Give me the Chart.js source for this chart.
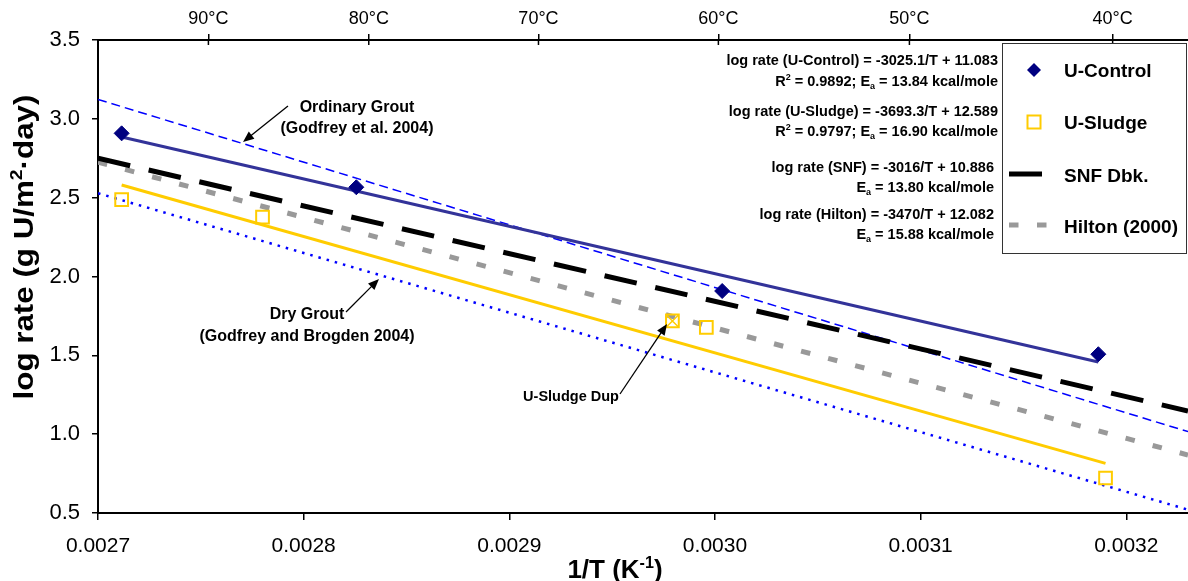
<!DOCTYPE html>
<html>
<head>
<meta charset="utf-8">
<script src="https://cdn.jsdelivr.net/npm/chart.js@4.4.1/dist/chart.umd.min.js"></script>
<style>
  html, body { margin: 0; padding: 0; background: #fff; }
  #wrap { width: 1188px; height: 581px; }
  canvas { display: block; }
</style>
</head>
<body>
<div id="wrap"><canvas id="chart" width="1188" height="581"></canvas></div>
<script>
// values (x = 1/T in K^-1, y = log rate)
const uControlX = [0.0027115, 0.0028256, 0.0030035, 0.0031864];
const uControlY = [2.908, 2.566, 1.908, 1.507];

const uSludgeX = [0.0027115, 0.0027800, 0.0029793, 0.0029958, 0.0031899];
const uSludgeY = [2.488, 2.377, 1.718, 1.678, 0.722];

const uSludgeDupX = [0.0029793];
const uSludgeDupY = [1.718];

// fitted / literature lines, end points only
const uControlFitX = [0.0027115, 0.0031864];
const uControlFitY = [2.885, 1.458];
const uSludgeFitX = [0.0027115, 0.0031899];
const uSludgeFitY = [2.58, 0.815];
const snfX = [0.0027, 0.00323];
const snfY = [2.75, 1.147];
const hiltonX = [0.0027, 0.00323];
const hiltonY = [2.725, 0.868];
const ordinaryGroutX = [0.0027, 0.00323];
const ordinaryGroutY = [3.123, 1.016];
const dryGroutX = [0.0027, 0.00323];
const dryGroutY = [2.528, 0.521];

// axes
const xTicks = [0.0027, 0.0028, 0.0029, 0.0030, 0.0031, 0.0032];
const yTicks = [0.5, 1.0, 1.5, 2.0, 2.5, 3.0, 3.5];
const topTempsC = [90, 80, 70, 60, 50, 40];
const topTempLabels = ['90°C', '80°C', '70°C', '60°C', '50°C', '40°C'];

const FONT = '"Liberation Sans", Arial, sans-serif';
Chart.defaults.font.family = FONT;
Chart.defaults.color = '#000';

const pts = (xs, ys) => xs.map((x, i) => ({ x: x, y: ys[i] }));

const lineSet = (label, xs, ys, color, width, dash) => ({
    label: label,
    data: pts(xs, ys),
    showLine: true,
    pointRadius: 0,
    borderColor: color,
    backgroundColor: color,
    borderWidth: width,
    borderDash: dash,
    borderCapStyle: 'butt',
    tension: 0,
});

const datasets = [
    {
        label: 'U-Control',
        data: pts(uControlX, uControlY),
        pointStyle: 'rectRot',
        pointRadius: 7.5,
        backgroundColor: '#000080',
        borderColor: '#000080',
        borderWidth: 1,
    },
    {
        label: 'U-Sludge',
        data: pts(uSludgeX, uSludgeY),
        pointStyle: 'rect',
        pointRadius: 9,
        backgroundColor: 'rgba(255,255,255,0)',
        borderColor: '#FFCC00',
        borderWidth: 2,
    },
    {
        label: 'U-Sludge Dup',
        data: pts(uSludgeDupX, uSludgeDupY),
        pointStyle: 'crossRot',
        pointRadius: 8.5,
        borderColor: '#FFCC00',
        borderWidth: 1.5,
    },
    lineSet('U-Control fit', uControlFitX, uControlFitY, '#333399', 3, []),
    lineSet('U-Sludge fit', uSludgeFitX, uSludgeFitY, '#FFCC00', 3, []),
    lineSet('SNF Dbk.', snfX, snfY, '#000000', 5, [33, 19]),
    lineSet('Hilton (2000)', hiltonX, hiltonY, '#999999', 5, [9.5, 18.5]),
    lineSet('Ordinary Grout', ordinaryGroutX, ordinaryGroutY, '#0000FF', 1.5, [9, 5]),
    lineSet('Dry Grout', dryGroutX, dryGroutY, '#0000FF', 2.5, [2.5, 6]),
];

// text blocks [parts, anchorX, baselineY]
const equations = [
    [[['log rate (U-Control) = -3025.1/T + 11.083']], 998, 64.5],
    [[['R'], ['2', 'sup'], [' = 0.9892; E'], ['a', 'sub'], [' = 13.84 kcal/mole']], 998, 86],
    [[['log rate (U-Sludge) = -3693.3/T + 12.589']], 998, 115.5],
    [[['R'], ['2', 'sup'], [' = 0.9797; E'], ['a', 'sub'], [' = 16.90 kcal/mole']], 998, 136],
    [[['log rate (SNF) = -3016/T + 10.886']], 994, 172],
    [[['E'], ['a', 'sub'], [' = 13.80 kcal/mole']], 994, 192],
    [[['log rate (Hilton) = -3470/T + 12.082']], 994, 219],
    [[['E'], ['a', 'sub'], [' = 15.88 kcal/mole']], 994, 238.5],
];

const callouts = [
    { lines: ['Ordinary Grout', '(Godfrey et al. 2004)'], x: 357, y: 112, size: 16, gap: 21, from: [288, 106], to: [243, 142] },
    { lines: ['Dry Grout', '(Godfrey and Brogden 2004)'], x: 307, y: 319, size: 16, gap: 22, from: [346, 312], to: [379, 279] },
    { lines: ['U-Sludge Dup'], x: 571, y: 401, size: 14.5, gap: 0, from: [620, 394], to: [667, 324] },
];

function richText(ctx, parts, x, y, size, align) {
    const fontFor = (p) => `bold ${p[1] ? size * 0.62 : size}px ${FONT}`;
    let w = 0;
    parts.forEach((p) => { ctx.font = fontFor(p); w += ctx.measureText(p[0]).width; });
    let cx = align === 'right' ? x - w : align === 'center' ? x - w / 2 : x;
    ctx.textAlign = 'left';
    ctx.textBaseline = 'alphabetic';
    parts.forEach((p) => {
        ctx.font = fontFor(p);
        const dy = p[1] === 'sup' ? -size * 0.4 : p[1] === 'sub' ? size * 0.22 : 0;
        ctx.fillText(p[0], cx, y + dy);
        cx += ctx.measureText(p[0]).width;
    });
}

function arrow(ctx, x1, y1, x2, y2) {
    const a = Math.atan2(y2 - y1, x2 - x1);
    const c = Math.cos(a), s = Math.sin(a);
    ctx.beginPath();
    ctx.moveTo(x1, y1);
    ctx.lineTo(x2 - 8 * c, y2 - 8 * s);
    ctx.stroke();
    ctx.beginPath();
    ctx.moveTo(x2, y2);
    ctx.lineTo(x2 - 11 * c + 4.5 * s, y2 - 11 * s - 4.5 * c);
    ctx.lineTo(x2 - 11 * c - 4.5 * s, y2 - 11 * s + 4.5 * c);
    ctx.closePath();
    ctx.fill();
}

const overlay = {
    id: 'overlay',
    afterDraw(chart) {
        const ctx = chart.ctx;
        const top = chart.scales.xTop;
        ctx.save();

        // inner half of the crossing ticks on the temperature axis
        ctx.strokeStyle = '#000';
        ctx.lineWidth = 1.5;
        top.ticks.forEach((t) => {
            const px = top.getPixelForValue(t.value);
            ctx.beginPath();
            ctx.moveTo(px, top.bottom);
            ctx.lineTo(px, top.bottom + 5);
            ctx.stroke();
        });

        // axis titles
        ctx.fillStyle = '#000';
        richText(ctx, [['1/T (K'], ['-1', 'sup'], [')']], 615, 578, 26, 'center');
        ctx.save();
        ctx.translate(33, 247);
        ctx.rotate(-Math.PI / 2);
        ctx.scale(1.16, 1);
        richText(ctx, [['log rate (g U/m'], ['2', 'sup'], ['·day)']], 0, 0, 27, 'center');
        ctx.restore();

        // equations
        equations.forEach(([parts, x, y]) => richText(ctx, parts, x, y, 14.5, 'right'));

        // callouts with arrows
        ctx.lineWidth = 1.3;
        callouts.forEach((c) => {
            c.lines.forEach((ln, i) => richText(ctx, [[ln]], c.x, c.y + i * c.gap, c.size, 'center'));
            arrow(ctx, c.from[0], c.from[1], c.to[0], c.to[1]);
        });

        // legend
        const lx = 1002, ly = 43, lw = 184, lh = 210;
        ctx.fillStyle = '#fff';
        ctx.fillRect(lx, ly, lw, lh);
        ctx.strokeStyle = '#333';
        ctx.lineWidth = 1;
        ctx.strokeRect(lx + 0.5, ly + 0.5, lw, lh);

        const ds = chart.data.datasets;
        const rows = [
            { d: ds[0], y: 70, kind: 'diamond' },
            { d: ds[1], y: 122, kind: 'square' },
            { d: ds[5], y: 175, kind: 'line' },
            { d: ds[6], y: 226, kind: 'line' },
        ];
        rows.forEach((r) => {
            const mx = 1034;
            ctx.save();
            if (r.kind === 'diamond') {
                ctx.fillStyle = r.d.backgroundColor;
                ctx.beginPath();
                ctx.moveTo(mx, r.y - 7);
                ctx.lineTo(mx + 7, r.y);
                ctx.lineTo(mx, r.y + 7);
                ctx.lineTo(mx - 7, r.y);
                ctx.closePath();
                ctx.fill();
            } else if (r.kind === 'square') {
                ctx.strokeStyle = r.d.borderColor;
                ctx.lineWidth = 2;
                ctx.strokeRect(mx - 6.5, r.y - 6.5, 13, 13);
            } else {
                ctx.strokeStyle = r.d.borderColor;
                ctx.lineWidth = r.d.borderWidth;
                ctx.setLineDash(r.d.borderDash);
                ctx.beginPath();
                ctx.moveTo(1009, r.y - 1);
                ctx.lineTo(1050, r.y - 1);
                ctx.stroke();
            }
            ctx.restore();
            ctx.fillStyle = '#000';
            richText(ctx, [[r.d.label]], 1064, r.y + 7, 19, 'left');
        });

        ctx.restore();
    },
};

// keep the plot box fixed: 98px on the left, 40px on top, 68px below, none on the right
const noSidePadding = (s) => { s.paddingLeft = 0; s.paddingRight = 0; };

new Chart(document.getElementById('chart'), {
    type: 'scatter',
    data: { datasets: datasets },
    options: {
        responsive: false,
        animation: false,
        events: [],
        layout: { padding: 0, autoPadding: false },
        plugins: {
            legend: { display: false },
            tooltip: { enabled: false },
        },
        scales: {
            x: {
                type: 'linear',
                position: 'bottom',
                min: 0.0027,
                max: 0.00323,
                afterBuildTicks: (s) => { s.ticks = xTicks.map((v) => ({ value: v })); },
                afterFit: (s) => { s.height = 68; noSidePadding(s); },
                ticks: {
                    callback: (v) => v.toFixed(4),
                    font: { size: 21 },
                    padding: 14,
                    maxRotation: 0,
                    autoSkip: false,
                },
                grid: { display: true, drawOnChartArea: false, drawTicks: true, tickLength: 7, color: '#000', lineWidth: 1.5 },
                border: { display: true, color: '#000', width: 2 },
            },
            xTop: {
                type: 'linear',
                position: 'top',
                min: 0.0027,
                max: 0.00323,
                afterBuildTicks: (s) => { s.ticks = topTempsC.map((t) => ({ value: 1 / (t + 273.15) })); },
                afterFit: (s) => { s.height = 40; noSidePadding(s); },
                ticks: {
                    callback: (v, i) => topTempLabels[i],
                    font: { size: 18 },
                    padding: 4,
                    maxRotation: 0,
                    autoSkip: false,
                },
                grid: { display: true, drawOnChartArea: false, drawTicks: true, tickLength: 6, color: '#000', lineWidth: 1.5 },
                border: { display: true, color: '#000', width: 2 },
            },
            y: {
                type: 'linear',
                position: 'left',
                min: 0.5,
                max: 3.5,
                afterBuildTicks: (s) => { s.ticks = yTicks.map((v) => ({ value: v })); },
                afterFit: (s) => { s.width = 98; },
                ticks: {
                    callback: (v) => v.toFixed(1),
                    font: { size: 22 },
                    padding: 12,
                },
                grid: { display: true, drawOnChartArea: false, drawTicks: true, tickLength: 6, color: '#000', lineWidth: 1.5 },
                border: { display: true, color: '#000', width: 2 },
            },
        },
    },
    plugins: [overlay],
});
</script>
</body>
</html>
